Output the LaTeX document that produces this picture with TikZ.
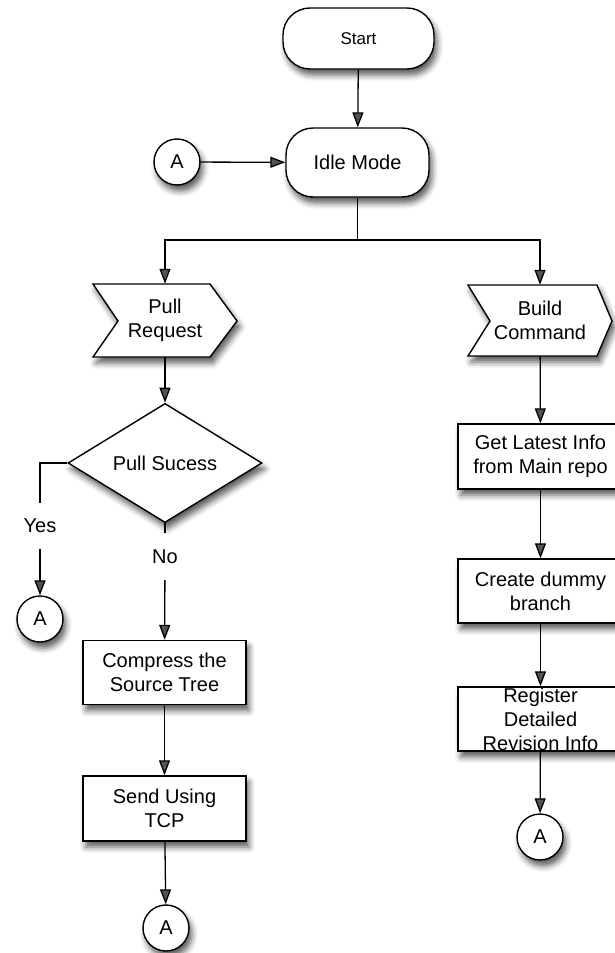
\documentclass[tikz,border=0pt]{standalone}
\usepackage{fontspec}
\setmainfont{Liberation Sans}
\usetikzlibrary{arrows.meta,shapes.geometric,shadows.blur}
\begin{document}
\begin{tikzpicture}[x=1pt,y=-1pt,
  softshadow/.style={blur shadow={shadow xshift=3pt,shadow yshift=-6pt,shadow blur radius=6pt,shadow opacity=65}},
  txt/.style={align=center,inner sep=0pt,font=\fontsize{20}{24}\selectfont},
  base/.style={txt,draw=black,line width=1.4pt,fill=white,softshadow},
  terminal/.style={base,rectangle,rounded corners=27pt},
  procbox/.style={base,rectangle,minimum width=163pt,minimum height=64pt},
  decision/.style={base,diamond,minimum width=194pt,minimum height=76pt},
  connector/.style={base,circle,minimum size=46pt},
  chevron/.style={draw=black,line width=1.4pt,fill=white,softshadow},
  flow/.style={line width=1.3pt,-{Triangle[length=15pt,width=11pt]}},
  link/.style={line width=1.3pt},
]
\useasboundingbox (0,0) rectangle (615,953);
\clip (0,0) rectangle (615,953);

% start / idle
\node[terminal,minimum width=151pt,minimum height=61pt,font=\fontsize{17}{20}\selectfont] (start) at (358.5,38.5) {Start};
\node[terminal,minimum width=143pt,minimum height=69pt] (idle) at (357.5,162.5) {Idle Mode};
\node[connector] (a1) at (177,162) {A};

% request branches (chevron outlines, then their text)
\draw[chevron] (93,284) -- (210,284) -- (237,321) -- (210,357) -- (93,357) -- (118,321) -- cycle;
\node[txt,minimum width=144pt,minimum height=73pt] (pull) at (165,320.5) {Pull\\Request};
\draw[chevron] (468,285) -- (597,285) -- (612,321) -- (597,356) -- (468,356) -- (490,321) -- cycle;
\node[txt,minimum width=144pt,minimum height=71pt] (build) at (540,320.5) {Build\\Command};

% left column
\node[decision] (dec) at (165,463) {Pull Sucess};
\node[txt,minimum height=46pt] (yes) at (40,526) {Yes};
\node[connector] (ayes) at (40,619) {A};
\node[txt,minimum height=47pt] (no) at (165,556.5) {No};
\node[procbox] (comp) at (164.5,672.5) {Compress the\\Source Tree};
\node[procbox,minimum height=65pt] (send) at (164.5,808.5) {Send Using\\TCP};
\node[connector] (aend) at (166,928) {A};

% right column
\node[procbox,minimum width=165pt,minimum height=65pt] (get) at (540.5,456.5) {Get Latest Info\\from Main repo};
\node[procbox,minimum width=165pt] (dummy) at (540.5,591) {Create dummy\\branch};
\node[procbox,minimum width=165pt] (reg) at (540.5,719) {Register\\Detailed\\Revision Info};
\node[connector] (areg) at (540,837) {A};

% connectors
\coordinate (split) at (357.5,240);
\draw[flow] (start) -- (idle);
\draw[flow] (a1) -- (idle);
\draw[link] (idle) -- (split);
\draw[flow] (split) -| (pull);
\draw[flow] (split) -| (build);

\draw[flow] (pull) -- (dec);
\draw[link] (dec.west) -| (yes.north);
\draw[flow] (yes) -- (ayes);
\draw[link] (dec) -- (no);
\draw[flow] (no) -- (comp);
\draw[flow] (comp) -- (send);
\draw[flow] (send) -- (aend);

\draw[flow] (build) -- (get);
\draw[flow] (get) -- (dummy);
\draw[flow] (dummy) -- (reg);
\draw[flow] (reg) -- (areg);
\end{tikzpicture}
\end{document}
